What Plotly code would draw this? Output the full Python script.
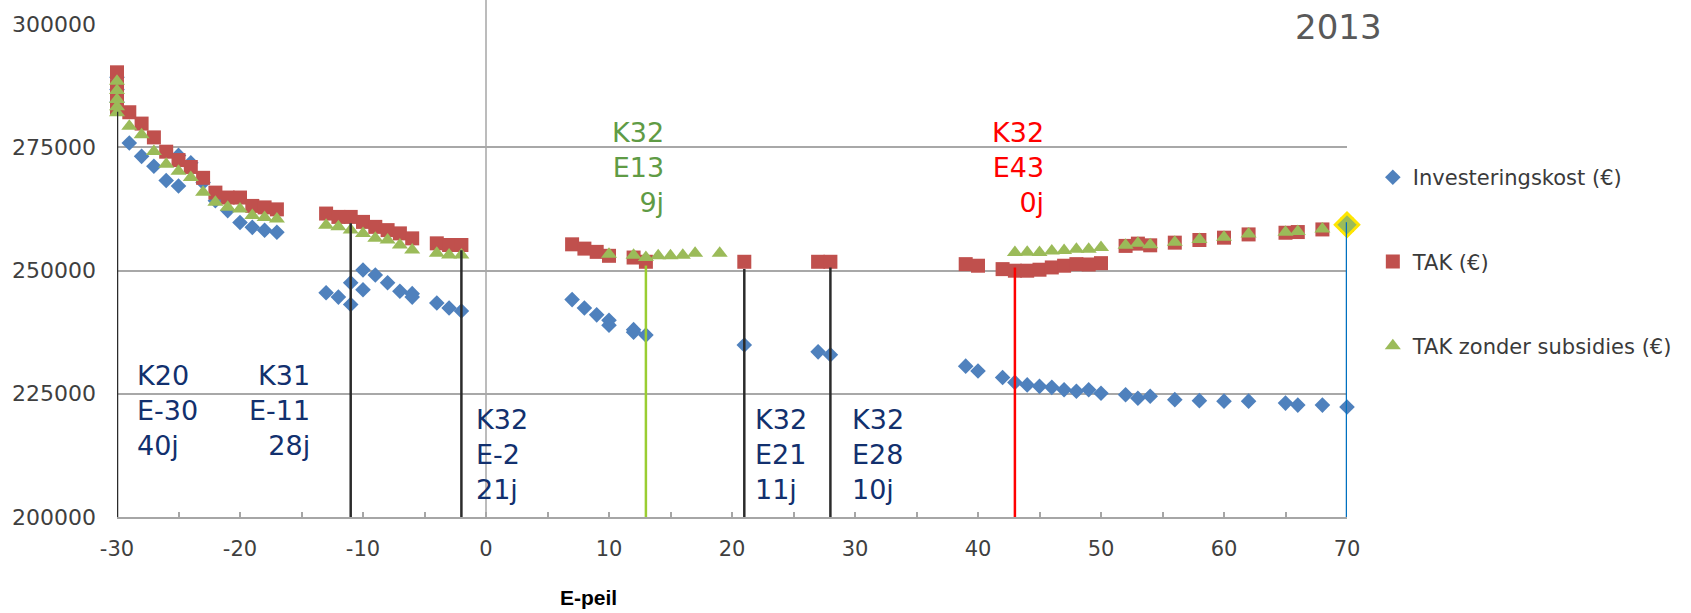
import plotly.graph_objects as go

# ---- data -------------------------------------------------------------
# Investeringskost (€) per E-peil
inv_E = [-30, -30, -30, -29, -28, -27, -26, -25, -25, -24, -23, -22, -21, -20, -19, -18, -17,
         -13, -12, -11, -11, -10, -10, -9, -8, -7, -6, -6, -4, -3, -2,
         7, 8, 9, 10, 10, 12, 12, 13, 21, 27, 28,
         39, 40, 42, 43, 44, 45, 46, 47, 48, 49, 50,
         52, 53, 54, 56, 58, 60, 62, 65, 66, 68, 70]
inv_val = [289200, 286700, 284200, 275850, 273150, 271150, 268250, 267150, 273350, 271850, 267850,
           264150, 262150, 259750, 258750, 258150, 257750,
           245500, 244600, 247500, 243100, 250100, 246100, 249100, 247500, 245800, 245300, 244600,
           243400, 242400, 241800,
           244100, 242400, 241000, 239900, 238900, 238000, 237500, 236900, 234900, 233500, 232900,
           230600, 229600, 228300, 227300, 226800, 226500, 226300, 225800, 225500, 225800, 225100,
           224800, 224100, 224500, 223800, 223600, 223500, 223500, 223100, 222700, 222700, 222300]

# TAK (€)
tak_E = [-30, -30, -30, -30, -29, -28, -27, -26, -25, -24, -23, -22, -21, -20, -19, -18, -17,
         -13, -12, -11, -10, -9, -8, -7, -6, -4, -3, -2,
         7, 8, 9, 10, 12, 13, 21, 27, 28,
         39, 40, 42, 43, 44, 45, 46, 47, 48, 49, 50,
         52, 53, 54, 56, 58, 60, 62, 65, 66, 68, 70]
tak_val = [290200, 287400, 284800, 282800, 282100, 279800, 277000, 274100, 272400, 271000, 268800,
           265800, 264800, 264800, 263100, 262800, 262400,
           261550, 260870, 260870, 259860, 258850, 258190, 257530, 256520, 255510, 255170, 255170,
           255310, 254440, 253780, 252980, 252630, 251770, 251770, 251770, 251770,
           251290, 250970, 250280, 249960, 249960, 250160, 250620, 250970, 251290, 251220, 251490,
           254990, 255450, 255110, 255650, 256190, 256660, 257320, 257660, 257800, 258330, 259270]

# TAK zonder subsidies (€)
taks_E = [-30, -30, -30, -30, -30, -29, -28, -27, -26, -25, -24, -23, -22, -21, -20, -19, -18, -17,
          -13, -12, -11, -10, -9, -8, -7, -6, -4, -3, -2,
          10, 12, 13, 14, 15, 16, 17, 19,
          43, 44, 45, 46, 47, 48, 49, 50,
          52, 53, 54, 56, 58, 60, 62, 65, 66, 68, 70]
taks_val = [288400, 286500, 284700, 283200, 282000, 279250, 277550, 274150, 271550, 270150, 268850,
            265850, 263850, 262850, 262450, 261150, 260750, 260450,
            259200, 258850, 258190, 257530, 256520, 256180, 255170, 254170, 253500, 253160, 253160,
            253300, 253100, 252630, 252980, 252980, 253100, 253500, 253500,
            253640, 253700, 253650, 253980, 254050, 254300, 254300, 254650,
            255100, 255550, 255200, 255750, 256300, 256750, 257400, 257750, 257900, 258400, 259300]

# highlighted optimum
best_E = [70]
best_val = [259270]

# reference variants: drop lines and their labels
ref_E = [-30, -11, -2, 13, 21, 28, 43, 70]
ref_top = [282200, 259600, 254100, 251000, 250300, 250600, 250600, 259800]
ref_text = ["K20<br>E-30<br>40j", "K31<br>E-11<br>28j", "K32<br>E-2<br>21j", "K32<br>E13<br>9j",
            "K32<br>E21<br>11j", "K32<br>E28<br>10j", "K32<br>E43<br>0j", "K39<br>E70"]

x_ticks = [-30, -20, -10, 0, 10, 20, 30, 40, 50, 60, 70]
x_ticktext = [str(v) for v in x_ticks]          # plain hyphen for negatives
y_ticks = [200000, 225000, 250000, 275000, 300000]

# ---- styling ----------------------------------------------------------
FONT = "DejaVu Sans"
BLUE, RED, GREEN = "#4F81BD", "#C0504D", "#9BBB59"
NAVY = "#12306E"
ref_color = ["#2B2B2B", "#2B2B2B", "#2B2B2B", "#9ACD32", "#2B2B2B", "#2B2B2B", "#FF0000", "#0070C0"]
text_color = [NAVY, NAVY, NAVY, "#5F9B45", NAVY, NAVY, "#FF0000", "#0070C0"]
# label anchor: (x in E-peil, y centre in €, horizontal anchor)
text_pos = [(-28.55, 221600, "left"), (-14.15, 221600, "right"), (-0.95, 212600, "left"),
            (14.6, 270850, "right"), (21.7, 212600, "left"), (29.6, 212600, "left"),
            (45.5, 270900, "right"), (71.0, 212700, "left")]

fig = go.Figure()
fig.add_trace(go.Scatter(x=inv_E, y=inv_val, mode="markers", name="Investeringskost (€)",
                         legendgroup="a", cliponaxis=False,
                         marker=dict(symbol="diamond", size=12, color=BLUE)))
fig.add_trace(go.Scatter(x=tak_E, y=tak_val, mode="markers", name="TAK (€)",
                         legendgroup="b", cliponaxis=False,
                         marker=dict(symbol="square", size=14, color=RED)))
fig.add_trace(go.Scatter(x=taks_E, y=taks_val, mode="markers", name="TAK zonder subsidies (€)",
                         legendgroup="c", cliponaxis=False,
                         marker=dict(symbol="triangle-up", size=14, color=GREEN)))
fig.add_trace(go.Scatter(x=best_E, y=best_val, mode="markers", showlegend=False, cliponaxis=False,
                         marker=dict(symbol="diamond", size=18, color=GREEN,
                                     line=dict(color="#FFE600", width=3))))

# vertical axis drawn at E-peil 0
fig.add_shape(type="line", xref="x", yref="paper", x0=0, x1=0, y0=0, y1=1.06,
              line=dict(color="#A6A6A6", width=1.5), layer="below")

for e, top, c in zip(ref_E, ref_top, ref_color):
    fig.add_shape(type="line", xref="x", yref="y", x0=e, x1=e, y0=200000, y1=top,
                  line=dict(color=c, width=2.5), layer="above")

for txt, (tx, ty, anc), c in zip(ref_text, text_pos, text_color):
    fig.add_annotation(x=tx, y=ty, xref="x", yref="y", text=txt, showarrow=False,
                       xanchor=anc, yanchor="middle", align=anc,
                       font=dict(family=FONT, size=27, color=c))

# year heading in the top-right corner
fig.add_annotation(x=0.993, y=1.038, xref="paper", yref="paper", text="2013", showarrow=False,
                   xanchor="center", yanchor="top",
                   font=dict(family=FONT, size=34, color="#595959"))

# axis title placed under the left half of the axis
fig.add_annotation(x=0.383, y=-0.164, xref="paper", yref="paper", text="<b>E-peil</b>",
                   showarrow=False, xanchor="center", yanchor="middle",
                   font=dict(family="Liberation Sans", size=21, color="#000000"))

fig.update_layout(
    width=1691, height=613,
    margin=dict(l=117, r=344, t=20, b=96),
    paper_bgcolor="white", plot_bgcolor="white",
    font=dict(family=FONT, size=21, color="#3F3F3F"),
    showlegend=True,
    legend=dict(x=1.021, y=0.73, xanchor="left", yanchor="top",
                font=dict(family=FONT, size=21, color="#3A3A3A"),
                tracegroupgap=54, bgcolor="rgba(0,0,0,0)"),
    xaxis=dict(range=[-30, 70], tickvals=x_ticks, ticktext=x_ticktext,
               showgrid=False, zeroline=False,
               showline=True, linecolor="#A6A6A6", linewidth=1.5,
               ticks="inside", ticklen=5, tickcolor="#A6A6A6", tickwidth=1.5,
               minor=dict(dtick=5, ticks="inside", ticklen=5, tickcolor="#A6A6A6", tickwidth=1.5),
               ticklabelstandoff=12,
               tickfont=dict(family=FONT, size=21, color="#3F3F3F")),
    yaxis=dict(range=[200000, 300000], tickvals=y_ticks, showgrid=True,
               gridcolor="#A8A8A8", gridwidth=1.5, zeroline=False, showline=False,
               ticks="", ticklabelstandoff=20, tickformat="d",
               tickfont=dict(family=FONT, size=22, color="#3F3F3F")),
)

fig.write_html("out.html")
